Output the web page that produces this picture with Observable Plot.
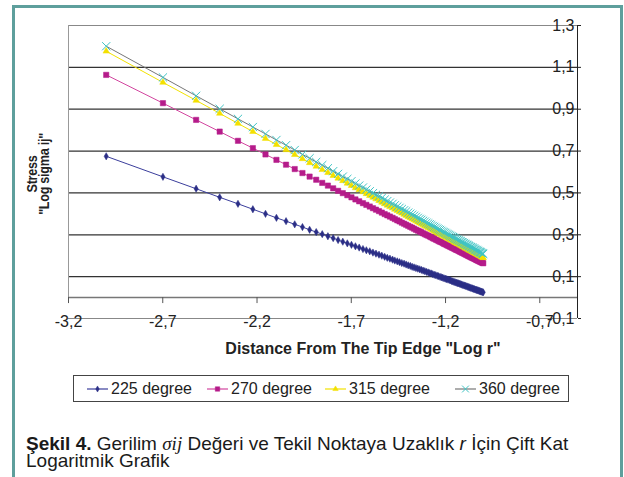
<!DOCTYPE html>
<html><head><meta charset="utf-8">
<script src="https://cdn.jsdelivr.net/npm/d3@7"></script>
<script src="https://cdn.jsdelivr.net/npm/@observablehq/plot@0.6"></script>
<style>
html,body{margin:0;padding:0;background:#fff;width:624px;height:477px;overflow:hidden;font-family:"Liberation Sans",Arial,sans-serif;color:#222;}
#frame{position:absolute;left:12px;top:5px;width:605px;height:520px;border:3px solid #5e9f9c;}
#chart{position:absolute;left:0;top:0;}
#ytitle{position:absolute;left:38px;top:174px;transform:translate(-50%,-50%) rotate(-90deg) scaleX(0.9);font-weight:bold;font-size:14px;line-height:12px;letter-spacing:-0.3px;text-align:center;white-space:nowrap;}
#xtitle{position:absolute;left:363px;top:341px;transform:translateX(-50%);font-weight:bold;font-size:16px;line-height:16px;white-space:nowrap;}
#legend{position:absolute;left:73px;top:375px;width:496px;height:27px;border:1px solid #444;box-sizing:border-box;}
.li{position:absolute;top:0;height:25px;display:flex;align-items:center;font-size:16px;white-space:nowrap;}
.li svg{margin-right:3px;}
#caption{position:absolute;left:26px;top:435px;font-size:19px;line-height:17px;white-space:nowrap;color:#1a1a1a;}
#caption .s{font-family:"Liberation Serif","Times New Roman",serif;font-style:italic;}
</style></head>
<body>
<div id="frame"></div>
<div id="chart"></div>
<div id="ytitle">Stress<br>"Log sigma ij"</div>
<div id="xtitle">Distance From The Tip Edge "Log r"</div>
<div id="legend"></div>
<div id="caption"><b>Şekil 4.</b> Gerilim <span class="s">σij</span> Değeri ve Tekil Noktaya Uzaklık <i>r</i> İçin Çift Kat<br>Logaritmik Grafik</div>
<script>
const seriesNames = ["225 degree","270 degree","315 degree","360 degree"];
const logR = [-3.000,-2.699,-2.523,-2.398,-2.301,-2.222,-2.155,-2.097,-2.046,-2.000,
-1.959,-1.921,-1.886,-1.854,-1.824,-1.796,-1.770,-1.745,-1.721,-1.699,
-1.678,-1.658,-1.638,-1.620,-1.602,-1.585,-1.569,-1.553,-1.538,-1.523,
-1.509,-1.495,-1.481,-1.469,-1.456,-1.444,-1.432,-1.420,-1.409,-1.398,
-1.387,-1.377,-1.367,-1.357,-1.347,-1.337,-1.328,-1.319,-1.310,-1.301,
-1.292,-1.284,-1.276,-1.268,-1.260,-1.252,-1.244,-1.237,-1.229,-1.222,
-1.215,-1.208,-1.201,-1.194,-1.187,-1.180,-1.174,-1.167,-1.161,-1.155,
-1.149,-1.143,-1.137,-1.131,-1.125,-1.119,-1.114,-1.108,-1.102,-1.097,
-1.092,-1.086,-1.081,-1.076,-1.071,-1.066,-1.060,-1.056,-1.051,-1.046,
-1.041,-1.036,-1.032,-1.027,-1.022,-1.018,-1.013,-1.009,-1.004,-1.000];
const s225 = [0.675,0.577,0.520,0.479,0.448,0.422,0.400,0.381,0.365,0.350,
0.337,0.324,0.313,0.303,0.293,0.284,0.275,0.267,0.259,0.252,
0.245,0.239,0.232,0.226,0.221,0.215,0.210,0.205,0.200,0.195,
0.190,0.186,0.181,0.177,0.173,0.169,0.165,0.162,0.158,0.154,
0.151,0.147,0.144,0.141,0.138,0.135,0.132,0.129,0.126,0.123,
0.120,0.117,0.115,0.112,0.109,0.107,0.104,0.102,0.099,0.097,
0.095,0.092,0.090,0.088,0.086,0.084,0.082,0.079,0.077,0.075,
0.073,0.071,0.069,0.068,0.066,0.064,0.062,0.060,0.058,0.057,
0.055,0.053,0.051,0.050,0.048,0.046,0.045,0.043,0.041,0.040,
0.038,0.037,0.035,0.034,0.032,0.031,0.029,0.028,0.026,0.025];
const s270 = [1.064,0.929,0.849,0.793,0.749,0.714,0.684,0.658,0.635,0.614,
0.595,0.578,0.563,0.548,0.535,0.522,0.510,0.499,0.489,0.479,
0.469,0.460,0.451,0.443,0.435,0.427,0.420,0.413,0.406,0.399,
0.393,0.387,0.381,0.375,0.369,0.364,0.358,0.353,0.348,0.343,
0.338,0.334,0.329,0.324,0.320,0.316,0.312,0.307,0.303,0.299,
0.296,0.292,0.288,0.284,0.281,0.277,0.274,0.270,0.267,0.264,
0.261,0.257,0.254,0.251,0.248,0.245,0.242,0.239,0.237,0.234,
0.231,0.228,0.226,0.223,0.220,0.218,0.215,0.213,0.210,0.208,
0.205,0.203,0.200,0.198,0.196,0.193,0.191,0.189,0.187,0.185,
0.182,0.180,0.178,0.176,0.174,0.172,0.170,0.168,0.166,0.164];
const s315 = [1.177,1.028,0.942,0.880,0.832,0.793,0.760,0.731,0.706,0.683,
0.663,0.644,0.627,0.611,0.597,0.583,0.570,0.558,0.546,0.535,
0.524,0.515,0.505,0.496,0.487,0.479,0.471,0.463,0.455,0.448,
0.441,0.434,0.428,0.421,0.415,0.409,0.403,0.397,0.392,0.386,
0.381,0.376,0.371,0.366,0.361,0.356,0.352,0.347,0.343,0.339,
0.334,0.330,0.326,0.322,0.318,0.314,0.310,0.307,0.303,0.299,
0.296,0.292,0.289,0.286,0.282,0.279,0.276,0.273,0.270,0.266,
0.263,0.260,0.257,0.255,0.252,0.249,0.246,0.243,0.241,0.238,
0.235,0.233,0.230,0.227,0.225,0.222,0.220,0.217,0.215,0.213,
0.210,0.208,0.206,0.203,0.201,0.199,0.197,0.194,0.192,0.190];
const s360 = [1.201,1.052,0.964,0.902,0.854,0.815,0.782,0.753,0.728,0.705,
0.684,0.666,0.648,0.633,0.618,0.604,0.591,0.578,0.567,0.556,
0.545,0.535,0.526,0.516,0.508,0.499,0.491,0.483,0.476,0.468,
0.461,0.454,0.448,0.441,0.435,0.429,0.423,0.417,0.412,0.406,
0.401,0.396,0.391,0.386,0.381,0.376,0.372,0.367,0.363,0.358,
0.354,0.350,0.346,0.342,0.338,0.334,0.330,0.326,0.323,0.319,
0.315,0.312,0.309,0.305,0.302,0.299,0.295,0.292,0.289,0.286,
0.283,0.280,0.277,0.274,0.271,0.268,0.265,0.263,0.260,0.257,
0.254,0.252,0.249,0.247,0.244,0.241,0.239,0.237,0.234,0.232,
0.229,0.227,0.225,0.222,0.220,0.218,0.216,0.213,0.211,0.209];
const xTicks = [-3.2,-2.7,-2.2,-1.7,-1.2,-0.7];
const yTicks = [-0.1,0.1,0.3,0.5,0.7,0.9,1.1,1.3];
const xDomain = [-3.2,-0.5];
const yDomain = [-0.1,1.3];

const seriesValues = [s225,s270,s315,s360];
const lineColors = ["#3b3e9c","#d2459f","#f2e200","#777777"];
const markColors = ["#2b2e86","#b51b8a","#f3e000","#3fc4c4"];
const symbols = ["diamond","square","triangle","times"];
const radii = [2.2,3,2.4,3.8];

const rows = [];
seriesValues.forEach((vals, si) => vals.forEach((v, i) => rows.push({series: seriesNames[si], x: logR[i], y: v})));
const fmt = d => d.toFixed(1).replace(".", ",");

const marks = [
  Plot.ruleY(yTicks.filter(d => d > yDomain[0] && d < yDomain[1]), {stroke: "#333", strokeWidth: 1.2}),
  Plot.ruleY([yDomain[0], yDomain[1]], {stroke: "#888", strokeWidth: 1.2}),
  Plot.ruleX([xDomain[0]], {y1: 0, y2: yDomain[1], stroke: "#999"}),
  Plot.ruleY([0], {stroke: "#777", strokeWidth: 1.5}),
  Plot.ruleX(xTicks, {y1: 0, y2: 0, insetBottom: -6, stroke: "#555"}),
  Plot.ruleX([xDomain[1]], {stroke: "#222"}),
  Plot.axisX({ticks: xTicks, tickFormat: fmt, anchor: "bottom", tickSize: 0, tickPadding: -3, label: null, fontSize: 16}),
  Plot.axisY({ticks: yTicks, tickFormat: fmt, anchor: "right", tickSize: 3, tickPadding: -6, textAnchor: "end", label: null, fontSize: 16})
];
seriesNames.forEach((name, si) => {
  const d = rows.filter(r => r.series === name);
  marks.push(Plot.line(d, {x: "x", y: "y", stroke: lineColors[si], strokeWidth: 1}));
  const isStroke = symbols[si] === "times";
  marks.push(Plot.dot(d, {x: "x", y: "y", symbol: symbols[si], r: radii[si],
    fill: isStroke ? "none" : markColors[si], stroke: markColors[si], strokeWidth: isStroke ? 1 : 0.5}));
});

const chart = Plot.plot({
  width: 624, height: 345,
  marginLeft: 68, marginRight: 47, marginTop: 25, marginBottom: 27,
  x: {domain: xDomain},
  y: {domain: yDomain},
  style: {fontFamily: "'Liberation Sans', Arial, sans-serif", fontSize: "16px", color: "#222", background: "transparent"},
  marks
});
document.getElementById("chart").appendChild(chart);

// legend
const legendX = [13, 133, 251, 381];
const leg = d3.select("#legend");
seriesNames.forEach((name, si) => {
  const item = leg.append("div").attr("class", "li").style("left", legendX[si] + "px");
  const svg = item.append("svg").attr("width", 21).attr("height", 12);
  svg.append("line").attr("x1", 0).attr("x2", 21).attr("y1", 6).attr("y2", 6).attr("stroke", lineColors[si]).attr("stroke-width", 1.2);
  const symMap = {diamond: d3.symbolDiamond, square: d3.symbolSquare, triangle: d3.symbolTriangle, times: d3.symbolTimes};
  const isStroke = symbols[si] === "times";
  svg.append("path").attr("transform", "translate(10.5,6)")
    .attr("d", d3.symbol(symMap[symbols[si]], Math.PI * radii[si] * radii[si] * 0.7)())
    .attr("fill", isStroke ? "none" : markColors[si]).attr("stroke", markColors[si]).attr("stroke-width", isStroke ? 1 : 0.5);
  item.append("span").text(name);
});
</script>
</body></html>
